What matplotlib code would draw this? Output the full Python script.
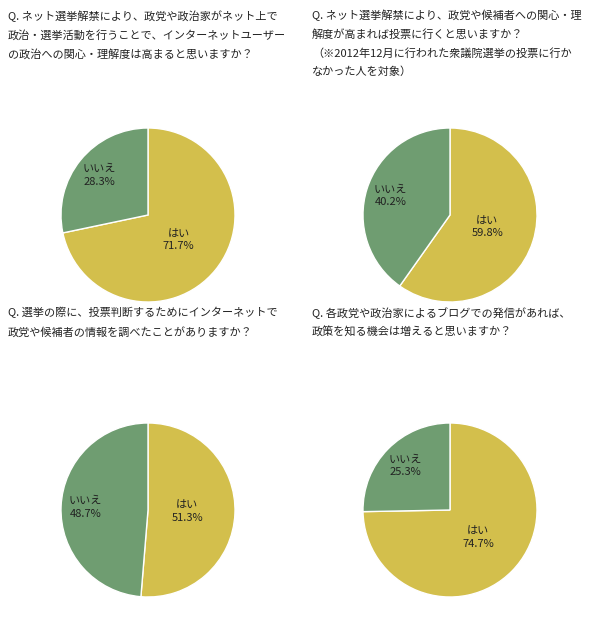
import matplotlib
matplotlib.use("Agg")
import matplotlib.pyplot as plt
import numpy as np

plt.rcParams["font.family"] = "Noto Sans CJK JP"

categories = ["はい", "いいえ"]
values_q1 = [71.7, 28.3]
values_q2 = [59.8, 40.2]
values_q3 = [51.3, 48.7]
values_q4 = [74.7, 25.3]
questions = [
    "Q. ネット選挙解禁により、政党や政治家がネット上で\n政治・選挙活動を行うことで、インターネットユーザー\nの政治への関心・理解度は高まると思いますか？",
    "Q. ネット選挙解禁により、政党や候補者への関心・理\n解度が高まれば投票に行くと思いますか？\n（※2012年12月に行われた衆議院選挙の投票に行か\nなかった人を対象）",
    "Q. 選挙の際に、投票判断するためにインターネットで\n政党や候補者の情報を調べたことがありますか？",
    "Q. 各政党や政治家によるブログでの発信があれば、\n政策を知る機会は増えると思いますか？",
]
colors = ["#d3bf4c", "#6f9d71"]

W, H = 601, 620
fig = plt.figure(figsize=(W / 100, H / 100), dpi=100)
R = 87
layout = [((148, 215), (8, 10)), ((450, 215), (312, 10)),
          ((148, 510), (8, 307)), ((450, 510), (312, 307))]
for vals, q, ((cx, cy), (tx, ty)) in zip([values_q1, values_q2, values_q3, values_q4], questions, layout):
    ax = fig.add_axes([(cx - R) / W, 1 - (cy + R) / H, 2 * R / W, 2 * R / H])
    ax.pie(vals, colors=colors, startangle=90, counterclock=False,
           wedgeprops=dict(edgecolor="white", linewidth=1))
    ax.set_xlim(-1, 1); ax.set_ylim(-1, 1)
    start = 90.0
    for i, (c, v) in enumerate(zip(categories, vals)):
        mid = np.deg2rad(start - v * 3.6 / 2)
        start -= v * 3.6
        d = 0.45 if i == 0 else 0.72
        ax.text(d * np.cos(mid), d * np.sin(mid), f"{c}\n{v:.1f}%", ha="center", va="center",
                fontsize=8, color="#222222", linespacing=1.3)
    fig.text(tx / W, 1 - ty / H, q, ha="left", va="top", fontsize=8, color="#222222", linespacing=1.9)

fig.savefig("out.png", dpi=100, facecolor="white")
